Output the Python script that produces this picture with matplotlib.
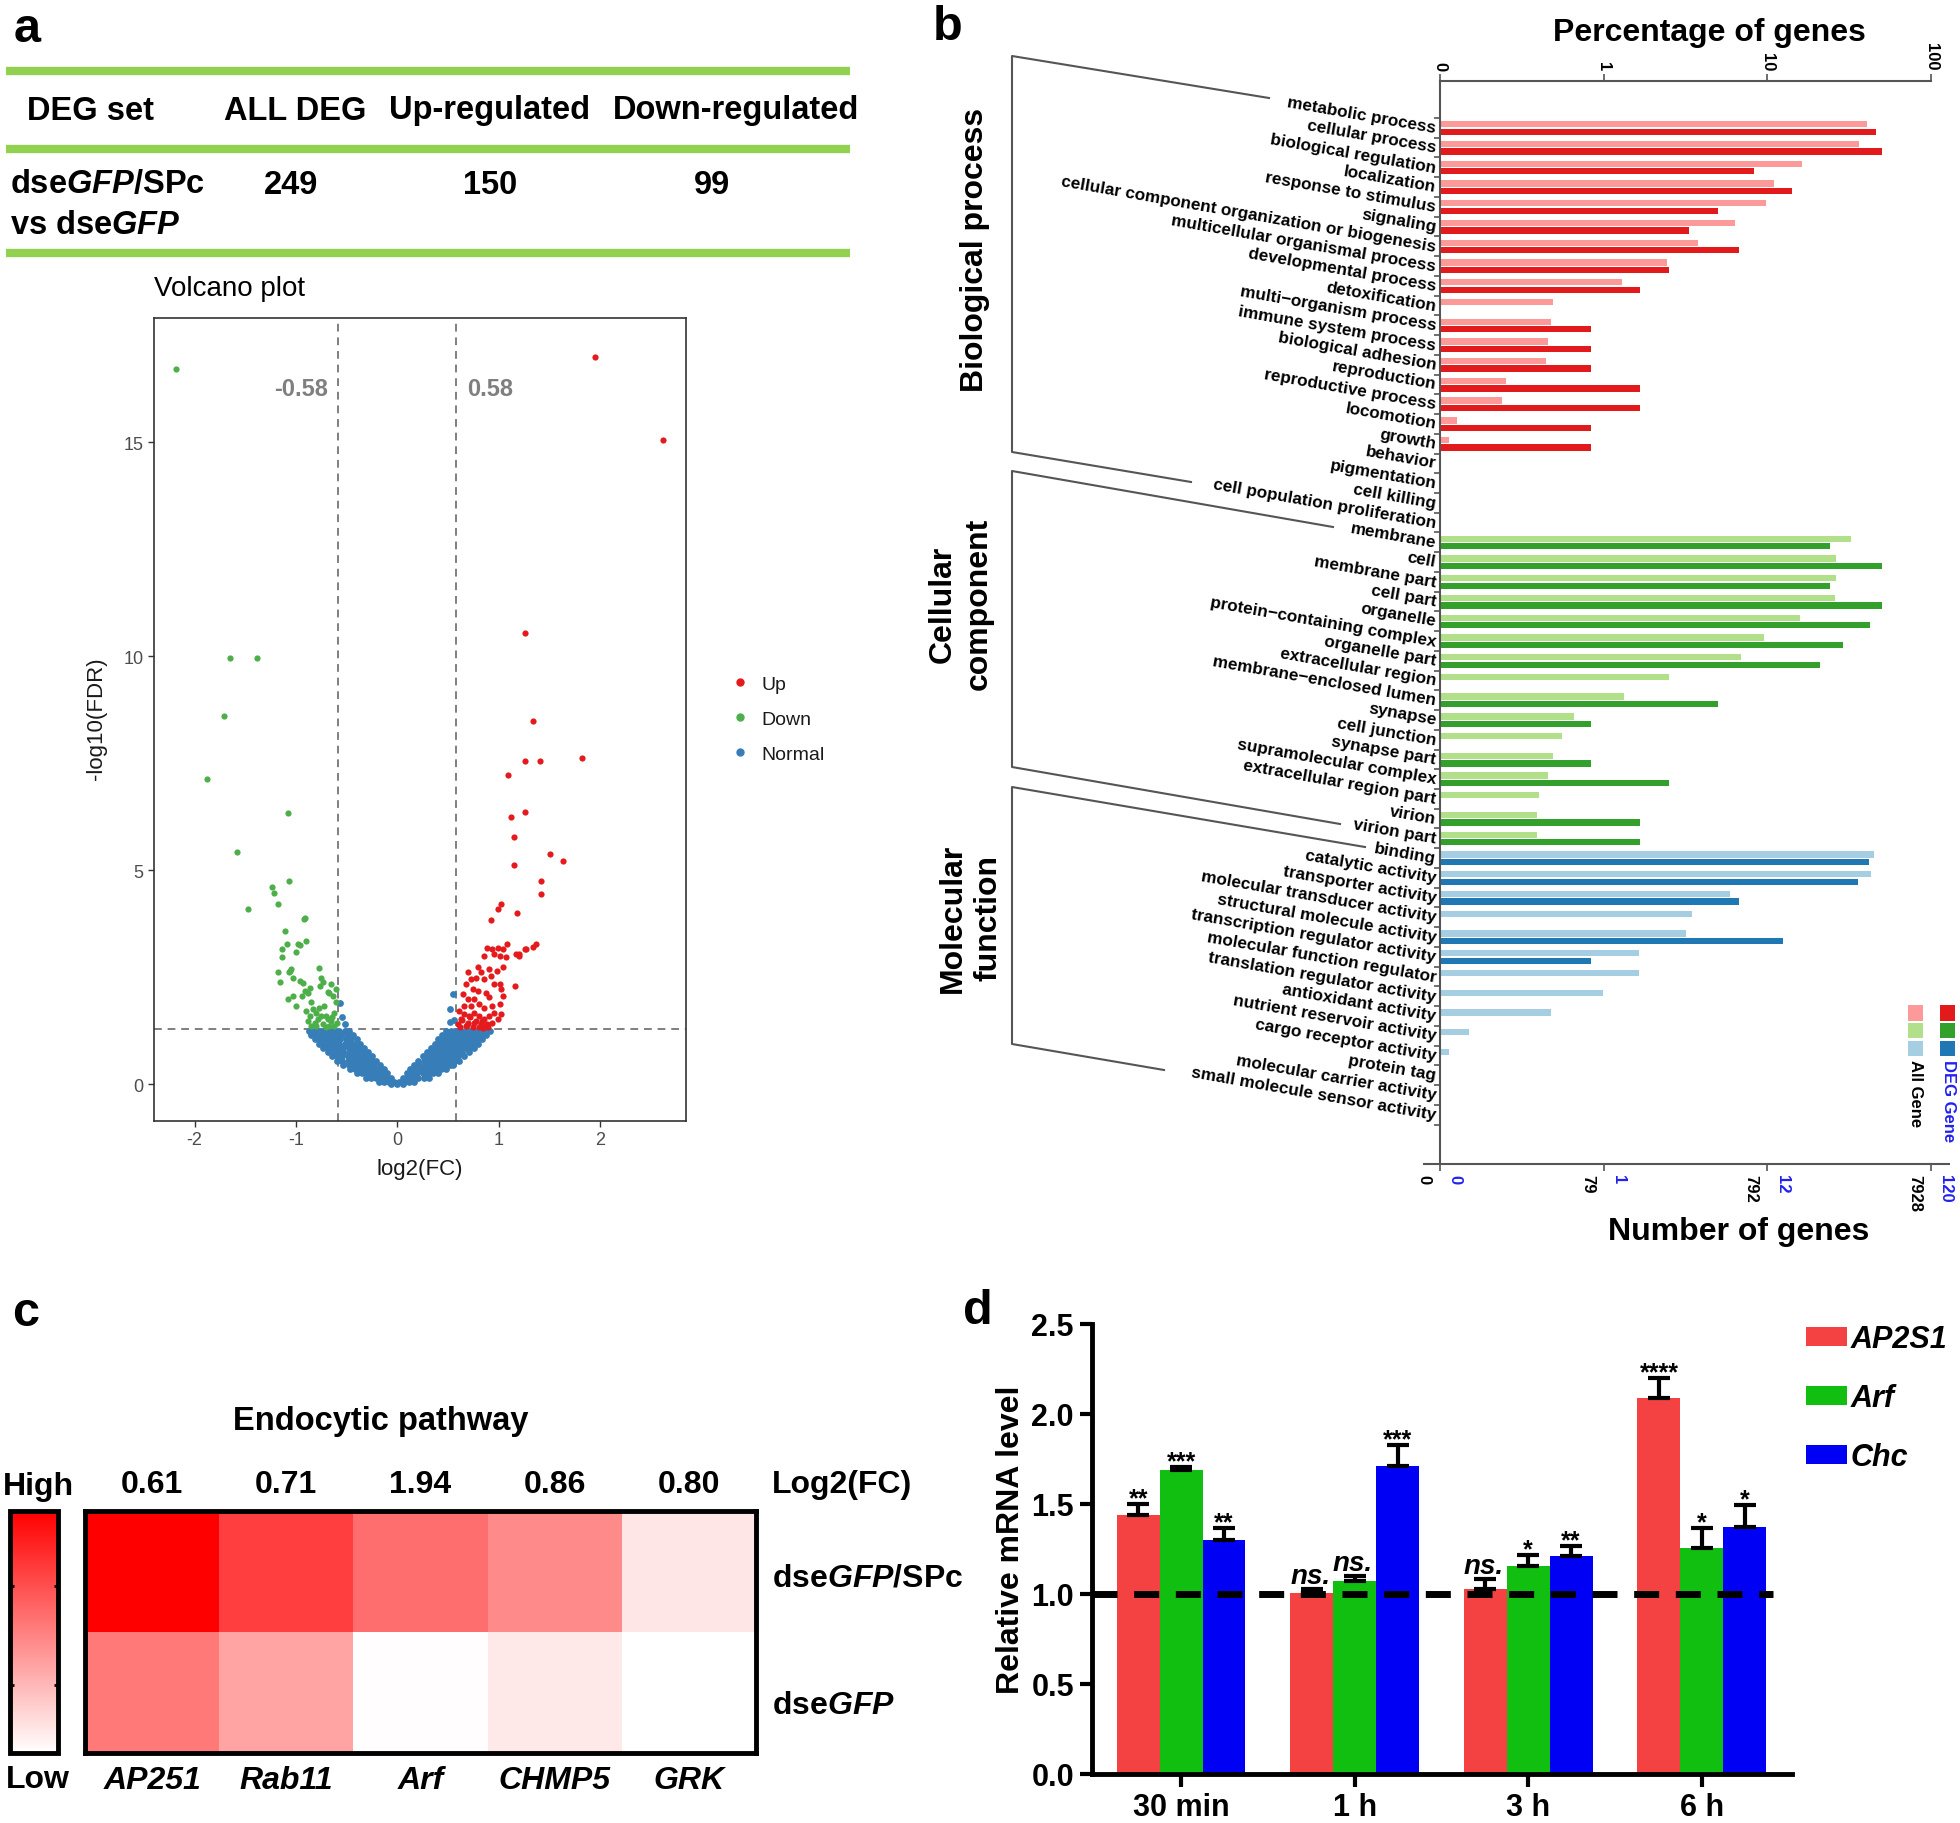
import numpy as np
import matplotlib
matplotlib.use('Agg')
import matplotlib.pyplot as plt
from matplotlib.colors import LinearSegmentedColormap
from matplotlib.lines import Line2D
from matplotlib.patches import Rectangle

plt.rcParams['font.family'] = ['Liberation Sans', 'DejaVu Sans']
plt.rcParams['mathtext.fontset'] = 'custom'
plt.rcParams['mathtext.rm'] = 'Liberation Sans:bold'
plt.rcParams['mathtext.it'] = 'Liberation Sans:bold:italic'
plt.rcParams['mathtext.bf'] = 'Liberation Sans:bold'
plt.rcParams['axes.unicode_minus'] = False

# ---------------- data ----------------
# a: DEG table
deg_header = ['DEG set', 'ALL DEG', 'Up-regulated', 'Down-regulated']
deg_counts = [249, 150, 99]

# a: volcano plot
up_x = [1.95, 2.62, 1.26, 1.34, 1.26, 1.41, 1.82, 1.09, 1.12, 1.26, 1.15, 1.51, 1.64, 1.15,
        1.42, 1.42, 1.02, 0.99, 1.18, 0.93, 1.37, 1.34, 1.08, 1.20, 1.16, 1.27, 1.17, 1.26,
        0.89, 0.94, 0.99, 1.04, 0.86, 0.96, 1.01, 1.07, 1.20, 0.80, 0.83, 0.91, 0.98, 1.04,
        0.70, 0.73, 0.78, 0.86, 0.93, 0.96, 1.01, 1.02, 0.68, 0.75, 0.80, 0.88, 0.91, 1.04,
        1.01, 0.65, 0.70, 0.76, 0.66, 0.73, 0.81, 0.86, 0.94, 0.96, 1.02, 0.61, 0.66, 0.71,
        0.76, 0.81, 0.86, 0.91, 0.99, 0.63, 0.70, 0.76, 0.83, 0.89, 0.94, 0.68, 0.75, 0.81,
        0.88, 0.60, 0.64, 0.72, 0.84, 0.90, 0.62, 0.69, 0.78, 0.85]
up_y = [17.0, 15.05, 10.55, 8.48, 7.54, 7.54, 7.62, 7.23, 6.24, 6.35, 5.77, 5.37, 5.22, 5.11,
        4.75, 4.45, 4.21, 4.10, 3.99, 3.83, 3.27, 3.21, 3.28, 3.03, 2.30, 3.17, 3.04, 3.17,
        3.19, 3.17, 3.19, 3.17, 3.00, 3.04, 3.00, 2.96, 3.00, 2.73, 2.61, 2.69, 2.65, 2.73,
        2.61, 2.45, 2.49, 2.45, 2.53, 2.34, 2.34, 2.22, 2.34, 2.22, 2.18, 2.14, 2.03, 2.06,
        1.87, 2.10, 1.99, 1.99, 1.83, 1.83, 1.87, 1.79, 1.83, 1.67, 1.64, 1.71, 1.64, 1.60,
        1.67, 1.60, 1.52, 1.60, 1.52, 1.52, 1.44, 1.44, 1.40, 1.40, 1.44, 1.36, 1.33, 1.33,
        1.36, 1.40, 1.50, 1.56, 1.48, 1.34, 1.34, 1.38, 1.47, 1.31]
down_x = [-2.18, -1.65, -1.38, -1.71, -1.88, -1.08, -1.58, -1.24, -1.22, -1.07, -1.18, -1.47,
          -0.92, -0.91, -1.11, -0.90, -0.96, -1.09, -1.00, -1.14, -1.14, -1.18, -1.05, -1.07,
          -0.77, -1.16, -1.03, -0.96, -0.93, -0.75, -0.73, -0.76, -0.86, -0.91, -0.65, -0.68,
          -1.03, -1.08, -0.94, -1.00, -0.85, -0.63, -0.60, -0.90, -0.83, -0.80, -0.75, -0.78,
          -0.70, -0.68, -0.65, -0.62, -0.72, -0.77, -0.86, -0.88, -0.81, -0.73, -0.67, -0.62,
          -0.85, -0.59, -0.98, -1.06, -0.88, -0.67, -0.60, -0.70, -0.80, -0.64]
down_y = [16.7, 9.96, 9.96, 8.6, 7.12, 6.33, 5.42, 4.61, 4.47, 4.74, 4.21, 4.09,
          3.85, 3.89, 3.57, 3.34, 3.26, 3.27, 3.08, 3.15, 2.98, 2.61, 2.70, 2.63,
          2.71, 2.39, 2.49, 2.41, 2.36, 2.47, 2.38, 2.30, 2.24, 2.18, 2.34, 2.16,
          2.06, 1.99, 2.06, 1.83, 1.91, 2.05, 1.91, 1.71, 1.75, 1.67, 1.60, 1.52,
          1.60, 1.52, 1.48, 1.67, 1.83, 1.79, 1.60, 1.48, 1.44, 1.40, 1.36, 1.36,
          1.36, 1.44, 3.27, 2.65, 2.14, 2.14, 2.22, 1.33, 1.35, 1.56]
# the dense "Normal" cloud, read as rows of points (y level, x positions)
normal_rows = [
    (0.00, [-0.06, 0.0, 0.06]),
    (0.05, [-0.18, -0.13, -0.08, -0.03, 0.02, 0.07, 0.12, 0.17]),
    (0.15, [-0.31, -0.26, -0.21, -0.16, -0.11, -0.06, 0.06, 0.11, 0.16, 0.21, 0.26, 0.31]),
    (0.25, [-0.40, -0.35, -0.30, -0.25, -0.20, -0.15, -0.10,
            0.10, 0.15, 0.20, 0.25, 0.30, 0.35, 0.40]),
    (0.35, [-0.47, -0.42, -0.37, -0.32, -0.27, -0.22, -0.17, -0.13,
            0.13, 0.18, 0.23, 0.28, 0.33, 0.38, 0.43, 0.48]),
    (0.45, [-0.53, -0.48, -0.43, -0.38, -0.33, -0.28, -0.23, -0.17,
            0.17, 0.22, 0.27, 0.32, 0.37, 0.42, 0.47, 0.52, 0.55]),
    (0.55, [-0.59, -0.54, -0.49, -0.44, -0.39, -0.34, -0.29, -0.25, -0.21,
            0.21, 0.26, 0.31, 0.36, 0.41, 0.46, 0.51, 0.56, 0.61]),
    (0.65, [-0.64, -0.59, -0.54, -0.49, -0.44, -0.39, -0.34, -0.29, -0.25,
            0.25, 0.30, 0.35, 0.40, 0.45, 0.50, 0.55, 0.60, 0.66]),
    (0.75, [-0.68, -0.63, -0.58, -0.53, -0.48, -0.43, -0.38, -0.33, -0.29,
            0.29, 0.34, 0.39, 0.44, 0.49, 0.54, 0.59, 0.64, 0.71]),
    (0.85, [-0.73, -0.68, -0.63, -0.58, -0.53, -0.48, -0.43, -0.38, -0.33,
            0.33, 0.38, 0.43, 0.48, 0.53, 0.58, 0.63, 0.68, 0.72, 0.76]),
    (0.95, [-0.77, -0.72, -0.67, -0.62, -0.57, -0.52, -0.47, -0.42, -0.37,
            0.37, 0.42, 0.47, 0.52, 0.57, 0.62, 0.67, 0.72, 0.76, 0.80]),
    (1.05, [-0.81, -0.76, -0.71, -0.66, -0.61, -0.56, -0.51, -0.46, -0.40,
            0.40, 0.45, 0.50, 0.55, 0.60, 0.65, 0.70, 0.75, 0.80, 0.84]),
    (1.15, [-0.85, -0.80, -0.75, -0.70, -0.65, -0.60, -0.55, -0.50, -0.44,
            0.44, 0.49, 0.54, 0.59, 0.64, 0.69, 0.74, 0.79, 0.84, 0.88]),
    (1.25, [-0.87, -0.82, -0.77, -0.72, -0.67, -0.62, -0.57, -0.52, -0.48,
            0.48, 0.53, 0.58, 0.63, 0.68, 0.73, 0.78, 0.83, 0.88, 0.92]),
]
normal_extra_x = [-0.56, -0.54, -0.52, 0.555, 0.525, 0.52, 0.56]
normal_extra_y = [1.89, 1.57, 1.40, 2.10, 1.75, 1.45, 1.50]
fc_cut = 0.58
fdr_cut = 1.30

# b: GO classification (gene counts)
n_all_total = 7928
n_deg_total = 120
bp_terms = ['metabolic process', 'cellular process', 'biological regulation', 'localization',
            'response to stimulus', 'signaling', 'cellular component organization or biogenesis',
            'multicellular organismal process', 'developmental process', 'detoxification',
            'multi\u2212organism process', 'immune system process', 'biological adhesion',
            'reproduction', 'reproductive process', 'locomotion', 'growth', 'behavior',
            'pigmentation', 'cell killing', 'cell population proliferation']
bp_all = [3233, 2881, 1288, 870, 776, 500, 301, 194, 102, 39, 38, 36, 35, 20, 19, 10, 9, 0, 0, 0, 0]
bp_deg = [55, 60, 10, 17, 6, 4, 8, 3, 2, 0, 1, 1, 1, 2, 2, 1, 1, 0, 0, 0, 0]
cc_terms = ['membrane', 'cell', 'membrane part', 'cell part', 'organelle',
            'protein\u2212containing complex', 'organelle part', 'extracellular region',
            'membrane\u2212enclosed lumen', 'synapse', 'cell junction', 'synapse part',
            'supramolecular complex', 'extracellular region part', 'virion', 'virion part']
cc_all = [2564, 2084, 2070, 2060, 1257, 758, 550, 199, 105, 52, 44, 39, 36, 32, 31, 31]
cc_deg = [29, 60, 29, 60, 51, 35, 25, 0, 6, 1, 0, 1, 3, 0, 2, 2]
mf_terms = ['binding', 'catalytic activity', 'transporter activity', 'molecular transducer activity',
            'structural molecule activity', 'transcription regulator activity',
            'molecular function regulator', 'translation regulator activity', 'antioxidant activity',
            'nutrient reservoir activity', 'cargo receptor activity', 'protein tag',
            'molecular carrier activity', 'small molecule sensor activity']
mf_all = [3546, 3386, 467, 275, 251, 131, 131, 78, 38, 12, 9, 0, 0, 0]
mf_deg = [50, 43, 8, 0, 15, 1, 0, 0, 0, 0, 0, 0, 0, 0]

# c: heatmap
heat_genes = ['AP251', 'Rab11', 'Arf', 'CHMP5', 'GRK']
heat_fc = [0.61, 0.71, 1.94, 0.86, 0.80]
heat_spc = [1.00, 0.75, 0.57, 0.46, 0.10]
heat_gfp = [0.52, 0.36, 0.01, 0.09, 0.00]

# d: qPCR
d_times = ['30 min', '1 h', '3 h', '6 h']
d_genes = ['AP2S1', 'Arf', 'Chc']
ap2s1_mean = [1.44, 1.005, 1.03, 2.09]
ap2s1_err = [0.058, 0.025, 0.051, 0.108]
ap2s1_sig = ['**', 'ns.', 'ns.', '****']
arf_mean = [1.69, 1.07, 1.155, 1.255]
arf_err = [0.016, 0.029, 0.062, 0.11]
arf_sig = ['***', 'ns.', '*', '*']
chc_mean = [1.30, 1.71, 1.21, 1.375]
chc_err = [0.066, 0.118, 0.056, 0.118]
chc_sig = ['**', '***', '**', '*']

# ---------------- figure ----------------
W, H = 1960, 1824
fig = plt.figure(figsize=(W / 100, H / 100), dpi=100)


def box(x0, y0, x1, y1):
    return [x0 / W, 1 - y1 / H, (x1 - x0) / W, (y1 - y0) / H]


def ftext(x, y, s, **kw):
    return fig.text(x / W, 1 - y / H, s, **kw)


def fline(xs, ys, **kw):
    fig.add_artist(Line2D([x / W for x in xs], [1 - y / H for y in ys],
                          transform=fig.transFigure, **kw))


def frect(x0, y0, x1, y1, color):
    fig.add_artist(Rectangle((x0 / W, 1 - y1 / H), (x1 - x0) / W, (y1 - y0) / H,
                             transform=fig.transFigure, color=color, lw=0))


# panel letters
for x, y, s in [(27, 30, 'a'), (948, 27, 'b'), (26, 1314, 'c'), (978, 1312, 'd')]:
    ftext(x, y, s, fontsize=35, fontweight='bold', ha='center', va='center')

# ---- a: table
green = '#92D050'
for y in [72, 150, 254]:
    fline([6, 850], [y, y], color=green, lw=6, solid_capstyle='butt')
for xc, s in zip([90, 295, 490, 736], deg_header):
    ftext(xc, 111, s, fontsize=23.5, fontweight='bold', ha='center', va='center')
ftext(10, 185, r'dse$\mathit{GFP}$/SPc', fontsize=23.5, fontweight='bold', ha='left', va='center')
ftext(10, 225, r'vs dse$\mathit{GFP}$', fontsize=23.5, fontweight='bold', ha='left', va='center')
for xc, v in zip([291, 490, 712], deg_counts):
    ftext(xc, 185, str(v), fontsize=23.5, fontweight='bold', ha='center', va='center')

# ---- a: volcano
ax_v = fig.add_axes(box(154, 319, 686, 1122))
norm_x = [x for y, xs in normal_rows for x in xs] + normal_extra_x
norm_y = [y for y, xs in normal_rows for x in xs] + normal_extra_y
ax_v.scatter(norm_x, norm_y, s=24, color='#377EB8', lw=0, zorder=2)
ax_v.scatter(down_x, down_y, s=20, color='#4DAF4A', lw=0, zorder=3)
ax_v.scatter(up_x, up_y, s=20, color='#E41A1C', lw=0, zorder=3)
for xv in [-fc_cut, fc_cut]:
    ax_v.axvline(xv, color='#7F7F7F', lw=1.4, ls=(0, (4, 3)), zorder=1)
ax_v.axhline(fdr_cut, color='#7F7F7F', lw=1.4, ls=(0, (4, 3)), zorder=1)
ax_v.text(-0.68, 16.26, '-0.58', fontsize=17, fontweight='bold', color='#7F7F7F',
          ha='right', va='center')
ax_v.text(0.69, 16.26, '0.58', fontsize=17, fontweight='bold', color='#7F7F7F',
          ha='left', va='center')
ax_v.set_xlim(-2.40, 2.85)
ax_v.set_ylim(-0.86, 17.9)
ax_v.set_xticks([-2, -1, 0, 1, 2])
ax_v.set_yticks([0, 5, 10, 15])
ax_v.tick_params(labelsize=13, labelcolor='#4D4D4D', color='#333333', length=4, width=1)
for sp in ax_v.spines.values():
    sp.set_color('#333333')
    sp.set_linewidth(1.2)
ftext(154, 289, 'Volcano plot', fontsize=20, ha='left', va='center')
ftext(420, 1169, 'log2(FC)', fontsize=16, ha='center', va='center', color='#1A1A1A')
ftext(97, 719, '-log10(FDR)', fontsize=16, ha='center', va='center', rotation=90,
      color='#1A1A1A')
vh = [Line2D([], [], marker='o', ls='', color=c, markersize=5) for c in
      ['#E41A1C', '#4DAF4A', '#377EB8']]
ax_v.legend(vh, ['Up', 'Down', 'Normal'], loc='upper left',
            bbox_to_anchor=(730 / W, 1 - 676 / H), bbox_transform=fig.transFigure,
            frameon=False, fontsize=14, handlelength=1.0, handletextpad=0.6,
            labelspacing=0.9, borderpad=0, borderaxespad=0, labelcolor='#1A1A1A')

# ---- b: GO bars
terms = bp_terms + cc_terms + mf_terms
n_all = np.array(bp_all + cc_all + mf_all, dtype=float)
n_deg = np.array(bp_deg + cc_deg + mf_deg, dtype=float)
light = ['#FB9A99'] * len(bp_terms) + ['#B2DF8A'] * len(cc_terms) + ['#A6CEE3'] * len(mf_terms)
dark = ['#E31A1C'] * len(bp_terms) + ['#33A02C'] * len(cc_terms) + ['#1F78B4'] * len(mf_terms)


def decade_pos(n, total):
    # percentage on a log axis, 0.1 % at the origin
    pct = np.where(n > 0, n, 1e-9) / total * 100
    return np.clip(np.log10(pct) + 1, 0, None)


pos_all = decade_pos(n_all, n_all_total)
pos_deg = decade_pos(n_deg, n_deg_total)
idx = np.arange(len(terms))

ax_b = fig.add_axes(box(1440, 82, 1931, 1165))
ax_b.barh(idx + 0.32, pos_all, height=0.32, color=light, lw=0)
ax_b.barh(idx + 0.70, pos_deg, height=0.32, color=dark, lw=0)
ax_b.set_xlim(0, 3)
ax_b.set_ylim(53.0, -1.875)
for sp in ['right', 'bottom']:
    ax_b.spines[sp].set_visible(False)
for sp in ['left', 'top']:
    ax_b.spines[sp].set_color('#555555')
    ax_b.spines[sp].set_linewidth(1.5)
ax_b.plot([-0.033, 1.037], [0, 0], transform=ax_b.transAxes, color='#555555', lw=1.5,
          clip_on=False)
ax_b.set_yticks(np.arange(len(terms) + 1))
ax_b.set_yticklabels([])
ax_b.tick_params(axis='y', length=4, color='#555555', width=1.2)
ax_b.set_xticks([0, 1, 2, 3])
ax_b.set_xticklabels(['0', '1', '10', '100'])
ax_b.tick_params(axis='x', top=True, bottom=True, labeltop=True, labelbottom=False,
                 length=5, color='#555555', width=1.2, labelsize=12, pad=3)
for t in ax_b.xaxis.get_major_ticks():
    t.label2.set_rotation(-90)
    t.label2.set_va('bottom')
    t.label2.set_ha('center')
    t.label2.set_fontweight('bold')
for i, name in enumerate(terms):
    ax_b.text(-0.025, i + 0.5, name, rotation=-10, rotation_mode='anchor', ha='right',
              va='center', fontsize=12.3, fontweight='bold')
for p, lab_all, lab_deg in zip([0, 1, 2, 3], ['0', '79', '792', '7928'], ['0', '1', '12', '120']):
    ax_b.text(p - 0.10, 53.5, lab_all, rotation=-90, ha='center', va='top', fontsize=12,
              fontweight='bold', clip_on=False)
    ax_b.text(p + 0.09, 53.5, lab_deg, rotation=-90, ha='center', va='top', fontsize=12,
              fontweight='bold', color='#2222EE', clip_on=False)
ftext(1709, 33, 'Percentage of genes', fontsize=23, fontweight='bold', ha='center', va='center')
ftext(1739, 1232, 'Number of genes', fontsize=23, fontweight='bold', ha='center', va='center')

# group brackets and titles
bk = dict(color='#555555', lw=1.5)
fline([1269, 1012, 1012, 1191], [99, 57, 453, 483], **bk)
fline([1333, 1012, 1012, 1340], [528, 472, 768, 825], **bk)
fline([1365, 1012, 1012, 1164], [848, 788, 1045, 1071], **bk)
ftext(975, 250, 'Biological process', fontsize=23, fontweight='bold', rotation=90,
      ha='center', va='center')
ftext(961, 604, 'Cellular\ncomponent', fontsize=23, fontweight='bold', rotation=90,
      ha='center', va='center', multialignment='center', linespacing=1.25)
ftext(971, 918, 'Molecular\nfunction', fontsize=23, fontweight='bold', rotation=90,
      ha='center', va='center', multialignment='center', linespacing=1.25)

# b legend
for (y0, y1), cl, cd in zip([(1006, 1022), (1024, 1039), (1042, 1057)],
                            ['#FB9A99', '#B2DF8A', '#A6CEE3'], ['#E31A1C', '#33A02C', '#1F78B4']):
    frect(1908, y0, 1923, y1, cl)
    frect(1940, y0, 1955, y1, cd)
ftext(1915, 1060, 'All Gene', rotation=-90, ha='center', va='top', fontsize=12, fontweight='bold')
ftext(1948, 1060, 'DEG Gene', rotation=-90, ha='center', va='top', fontsize=12,
      fontweight='bold', color='#2222EE')

# ---- c: heatmap
cmap = LinearSegmentedColormap.from_list('wr', ['#FFFFFF', '#FF0000'])
ax_h = fig.add_axes(box(85, 1512, 756, 1754))
im = ax_h.imshow(np.array([heat_spc, heat_gfp]), cmap=cmap, vmin=0, vmax=1, aspect='auto')
ax_h.set_xticks([])
ax_h.set_yticks([])
for sp in ax_h.spines.values():
    sp.set_linewidth(3.5)
ckw = dict(fontsize=23, fontweight='bold')
for j, g in enumerate(heat_genes):
    ax_h.text(j, 1.72, g, style='italic', ha='center', va='center', **ckw)
    ax_h.text(j, -0.72, '%.2f' % heat_fc[j], ha='center', va='center', **ckw)
ax_h.text(4.62, -0.72, 'Log2(FC)', ha='left', va='center', **ckw)
ax_h.text(4.62, 0.05, r'dse$\mathit{GFP/}$SPc', ha='left', va='center', **ckw)
ax_h.text(4.62, 1.1, r'dse$\mathit{GFP}$', ha='left', va='center', **ckw)
cax = fig.add_axes(box(10, 1512, 58, 1754))
cb = fig.colorbar(im, cax=cax)
cb.outline.set_linewidth(3.5)
cb.set_ticks([0.28, 0.69])
cax.tick_params(left=True, right=True, labelleft=False, labelright=False, length=3,
                width=2, direction='in')
ftext(38, 1487, 'High', ha='center', va='center', **ckw)
ftext(38, 1780, 'Low', ha='center', va='center', **ckw)
ftext(381, 1422, 'Endocytic pathway', ha='center', va='center', fontsize=23.5,
      fontweight='bold')

# ---- d: qPCR bars
ax_d = fig.add_axes(box(1092, 1325, 1792, 1775))
xg = np.arange(len(d_times))
bw = 0.247
d_colors = ['#F44141', '#11BF11', '#0000F5']
handles = []
for k, (m, e, sig, c) in enumerate(zip([ap2s1_mean, arf_mean, chc_mean],
                                       [ap2s1_err, arf_err, chc_err],
                                       [ap2s1_sig, arf_sig, chc_sig], d_colors)):
    xs = xg + (k - 1) * bw
    b = ax_d.bar(xs, m, width=bw, color=c, lw=0, zorder=2)
    handles.append(b)
    ax_d.errorbar(xs, m, yerr=[np.zeros(len(m)), e], fmt='none', ecolor='black',
                  elinewidth=3, capsize=8, capthick=3, zorder=3)
    for x, top, s in zip(xs, np.array(m) + np.array(e), sig):
        if s == 'ns.':
            ax_d.text(x - 0.01, top + 0.0, s, fontsize=20, fontweight='bold', style='italic',
                      ha='center', va='bottom', zorder=4)
        else:
            ax_d.text(x, top - 0.035, s, fontsize=18, fontweight='bold', ha='center',
                      va='bottom', zorder=4)
ax_d.axhline(1.0, xmin=0, xmax=0.973, color='black', lw=5, ls=(0, (3.6, 2.4)), zorder=5)
ax_d.set_xlim(-0.514, 3.52)
ax_d.set_ylim(0, 2.5)
ax_d.set_xticks(xg)
ax_d.set_xticklabels(d_times)
ax_d.set_yticks([0, 0.5, 1.0, 1.5, 2.0, 2.5])
ax_d.set_yticklabels(['0.0', '0.5', '1.0', '1.5', '2.0', '2.5'])
for sp in ['top', 'right']:
    ax_d.spines[sp].set_visible(False)
for sp in ['left', 'bottom']:
    ax_d.spines[sp].set_linewidth(3.5)
ax_d.tick_params(length=9, width=3, labelsize=22, pad=4)
for lab in ax_d.get_xticklabels() + ax_d.get_yticklabels():
    lab.set_fontweight('bold')
ftext(1011, 1540, 'Relative mRNA level', fontsize=23, fontweight='bold', rotation=90,
      ha='center', va='center')
ax_d.legend(handles, d_genes, loc='upper left', bbox_to_anchor=(1806 / W, 1 - 1325 / H),
            bbox_transform=fig.transFigure, frameon=False,
            prop={'weight': 'bold', 'style': 'italic', 'size': 22},
            handlelength=1.35, handleheight=0.6, handletextpad=0.12, labelspacing=0.95,
            borderpad=0, borderaxespad=0)

fig.savefig('out.png', dpi=100)
